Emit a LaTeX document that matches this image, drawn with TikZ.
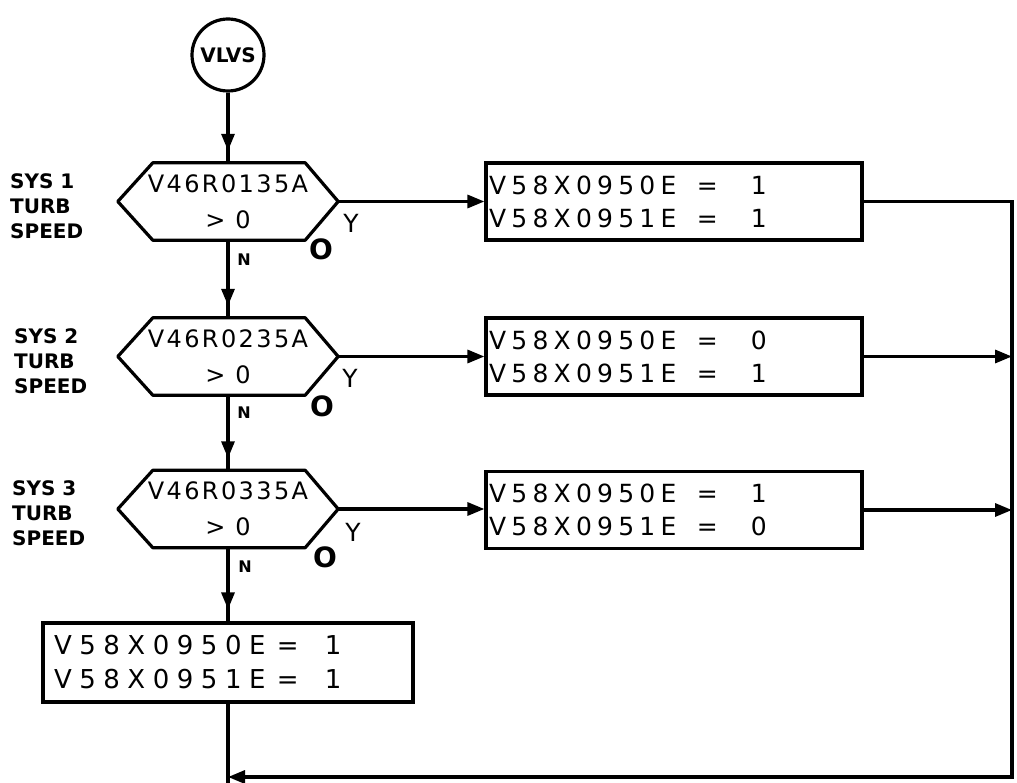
\documentclass[tikz,border=0pt]{standalone}
\usepackage{fontspec}
\setmainfont{DejaVu Sans}
\usetikzlibrary{arrows.meta,decorations.markings}
\newcommand{\boxfont}{\fontsize{25}{33}\selectfont\addfontfeature{LetterSpace=21}}
\newcommand{\bigboxfont}{\fontsize{26}{34}\selectfont\addfontfeature{LetterSpace=29}}
\newcommand{\hexfont}{\fontsize{24}{36}\selectfont\addfontfeature{LetterSpace=10}}
\newcommand{\asg}[4]{\makebox[#1][l]{#3}\makebox[#2][l]{=}#4}
\begin{document}
\begin{tikzpicture}[x=1pt,y=-1pt,
  flow/.style={line width=3.2pt},
  tipend/.style={-{Triangle[length=17pt,width=13pt]}},
  midtip/.style={postaction={decorate},decoration={markings,
      mark=at position -12pt with {\arrow{Triangle[length=17pt,width=13pt]}}}},
  hexnode/.style={rectangle,minimum width=220pt,minimum height=77pt,inner sep=0pt,
      align=center,font=\hexfont},
  sbox/.style={draw,line width=3.2pt,rectangle,minimum width=376pt,minimum height=77pt,
      inner xsep=3pt,text width=370pt,align=left,font=\boxfont},
  bbox/.style={draw,line width=3.2pt,rectangle,minimum width=370pt,minimum height=79pt,
      inner xsep=11pt,text width=348pt,align=left,font=\bigboxfont},
  syslabel/.style={anchor=west,align=left,inner sep=0pt,
      font=\fontsize{20}{25}\selectfont\bfseries},
  ylabel/.style={font=\fontsize{25}{25}\selectfont},
  nlabel/.style={font=\fontsize{16}{16}\selectfont\bfseries},
  olabel/.style={font=\fontsize{28}{28}\selectfont\bfseries},
]
\useasboundingbox (0,0) rectangle (1017,783);

% start connector
\node[draw,circle,line width=3.2pt,minimum size=72pt,inner sep=0pt,
      font=\fontsize{20}{20}\selectfont\bfseries] (start) at (228,55) {VLVS};

% decisions
\node[hexnode] (h1) at (228,201.5) {V46R0135A\\> 0};
\node[hexnode] (h2) at (228,356.5) {V46R0235A\\> 0};
\node[hexnode] (h3) at (228,509) {V46R0335A\\> 0};
\foreach \h in {h1,h2,h3}{
  \draw[flow,line join=round] (\h.west) -- ([xshift=35pt]\h.north west)
    -- ([xshift=-33pt]\h.north east) -- (\h.east)
    -- ([xshift=-33pt]\h.south east) -- ([xshift=35pt]\h.south west) -- cycle;
}

% side labels
\node[syslabel] (l1) at (10,206) {SYS 1\\TURB\\SPEED};
\node[syslabel] (l2) at (14,361) {SYS 2\\TURB\\SPEED};
\node[syslabel] (l3) at (12,513) {SYS 3\\TURB\\SPEED};

% Y / N / O marks
\node[ylabel] (y1) at (351,223) {Y};
\node[ylabel] (y2) at (350,378) {Y};
\node[ylabel] (y3) at (353,532) {Y};
\node[nlabel] (n1) at (244,260) {N};
\node[nlabel] (n2) at (244,413) {N};
\node[nlabel] (n3) at (245,567) {N};
\node[olabel] (o1) at (321,249) {O};
\node[olabel] (o2) at (322,406) {O};
\node[olabel] (o3) at (325,557) {O};

% assignment boxes
\node[sbox] (b1) at (674,201.5) {\asg{208pt}{54pt}{V58X0950E}{1}\\\asg{208pt}{54pt}{V58X0951E}{1}};
\node[sbox] (b2) at (674,356.5) {\asg{208pt}{54pt}{V58X0950E}{0}\\\asg{208pt}{54pt}{V58X0951E}{1}};
\node[sbox] (b3) at (674,510) {\asg{208pt}{54pt}{V58X0950E}{1}\\\asg{208pt}{54pt}{V58X0951E}{0}};
\node[bbox] (b4) at (228,662.5) {\asg{223pt}{48pt}{V58X0950E}{1}\\\asg{223pt}{48pt}{V58X0951E}{1}};

% helper coordinates
\coordinate (rbot) at (1012,777);
\coordinate (jn) at (228,777);
\coordinate (pgend) at (228,786);

% connectors
\draw[flow,midtip] (start) -- (h1);
\draw[flow,midtip] (h1) -- (h2);
\draw[flow,midtip] (h2) -- (h3);
\draw[flow,midtip] (h3) -- (b4);
\draw[flow,tipend] (h1.east) -- (h1.east -| b1.west);
\draw[flow,tipend] (h2.east) -- (h2.east -| b2.west);
\draw[flow,tipend] (h3.east) -- (h3.east -| b3.west);
\draw[flow,tipend] (b1.east) -| (rbot) -- (jn);
\draw[flow,tipend] (b2.east) -- (b2.east -| rbot);
\draw[flow,tipend] (b3.east) -- (b3.east -| rbot);
\draw[flow] (b4.south) -- (pgend);
\end{tikzpicture}
\end{document}
